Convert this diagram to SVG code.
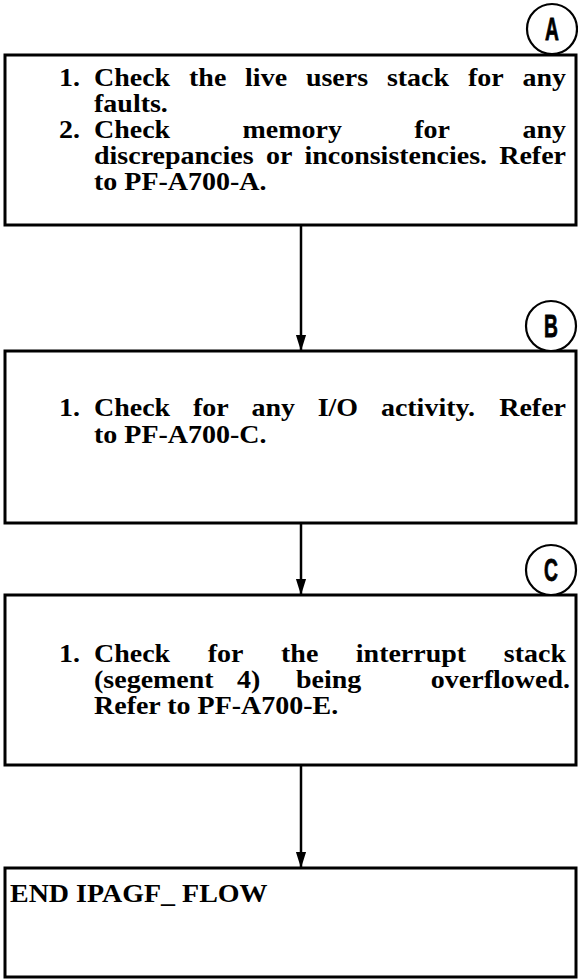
<svg xmlns="http://www.w3.org/2000/svg" width="578" height="979" viewBox="0 0 578 979">
  <style>
    .box { fill: #ffffff; stroke: #000000; stroke-width: 3; }
    .ref { fill: #ffffff; stroke: #000000; stroke-width: 2.2; }
    .t { font-family: "Liberation Serif", "Times New Roman", serif; font-weight: bold; font-size: 28px; fill: #000000; }
    .lbl { font-family: "Liberation Sans", Arial, sans-serif; font-weight: bold; font-size: 31px; fill: #000000; stroke: #000000; stroke-width: 0.8; text-anchor: middle; }
    .flow { fill: none; stroke: #000000; stroke-width: 2.5; }
  </style>
  <defs>
    <marker id="arrow" markerUnits="userSpaceOnUse" markerWidth="16" markerHeight="24" refX="22" refY="7" orient="auto" viewBox="0 0 22 14">
      <path d="M0,0 L22,7 L0,14 Z" fill="#000000"/>
    </marker>
  </defs>
  <rect width="578" height="979" fill="#ffffff"/>

  <!-- flow lines between the steps -->
  <g id="connectors">
    <line class="flow" x1="301" y1="226" x2="301" y2="351" marker-end="url(#arrow)"/>
    <line class="flow" x1="301" y1="524" x2="301" y2="595" marker-end="url(#arrow)"/>
    <line class="flow" x1="301" y1="766" x2="301" y2="868" marker-end="url(#arrow)"/>
  </g>

  <!-- step A: justified lines, each squashed slightly in height -->
  <g id="step-a">
    <rect class="box" x="5" y="55" width="571" height="170"/>
    <text class="t" transform="translate(0 86) scale(1 0.9)">
      <tspan x="59" y="0">1.</tspan><tspan x="94" y="0">Check</tspan><tspan x="189" y="0">the</tspan><tspan x="245.1" y="0">live</tspan><tspan x="305.9" y="0">users</tspan><tspan x="386.9" y="0">stack</tspan><tspan x="467.9" y="0">for</tspan><tspan x="566" y="0" text-anchor="end">any</tspan>
    </text>
    <text class="t" transform="translate(0 112) scale(1 0.9)"><tspan x="94" y="0">faults.</tspan></text>
    <text class="t" transform="translate(0 138) scale(1 0.9)">
      <tspan x="59" y="0">2.</tspan><tspan x="94" y="0">Check</tspan><tspan x="242.5" y="0">memory</tspan><tspan x="414.3" y="0">for</tspan><tspan x="566" y="0" text-anchor="end">any</tspan>
    </text>
    <text class="t" transform="translate(0 164) scale(1 0.9)">
      <tspan x="94" y="0">discrepancies</tspan><tspan x="266.1" y="0">or</tspan><tspan x="304.4" y="0">inconsistencies.</tspan><tspan x="566" y="0" text-anchor="end">Refer</tspan>
    </text>
    <text class="t" transform="translate(0 190) scale(1 0.9)"><tspan x="94" y="0">to PF-A700-A.</tspan></text>
  </g>
  <g id="ref-a">
    <circle class="ref" cx="552" cy="29" r="25"/>
    <text class="lbl" transform="translate(552 40) scale(0.62 1)">A</text>
  </g>

  <!-- step B -->
  <g id="step-b">
    <rect class="box" x="5" y="351" width="571" height="172"/>
    <text class="t" transform="translate(0 416) scale(1 0.9)">
      <tspan x="59" y="0">1.</tspan><tspan x="94" y="0">Check</tspan><tspan x="192.9" y="0">for</tspan><tspan x="251.4" y="0">any</tspan><tspan x="317.7" y="0">I/O</tspan><tspan x="380.9" y="0">activity.</tspan><tspan x="566" y="0" text-anchor="end">Refer</tspan>
    </text>
    <text class="t" transform="translate(0 443) scale(1 0.9)"><tspan x="94" y="0">to PF-A700-C.</tspan></text>
  </g>
  <g id="ref-b">
    <circle class="ref" cx="551" cy="326" r="25"/>
    <text class="lbl" transform="translate(551 337) scale(0.62 1)">B</text>
  </g>

  <!-- step C -->
  <g id="step-c">
    <rect class="box" x="5" y="595" width="571" height="170"/>
    <text class="t" transform="translate(0 662) scale(1 0.9)">
      <tspan x="59" y="0">1.</tspan><tspan x="94" y="0">Check</tspan><tspan x="207.7" y="0">for</tspan><tspan x="281" y="0">the</tspan><tspan x="355.8" y="0">interrupt</tspan><tspan x="566" y="0" text-anchor="end">stack</tspan>
    </text>
    <text class="t" transform="translate(0 688) scale(1 0.9)">
      <tspan x="94" y="0">(segement</tspan><tspan x="237" y="0">4)</tspan><tspan x="296" y="0">being</tspan><tspan x="570" y="0" text-anchor="end">overflowed.</tspan>
    </text>
    <text class="t" transform="translate(0 714) scale(1 0.9)"><tspan x="94" y="0">Refer to PF-A700-E.</tspan></text>
  </g>
  <g id="ref-c">
    <circle class="ref" cx="551" cy="570" r="25"/>
    <text class="lbl" transform="translate(551 581) scale(0.62 1)">C</text>
  </g>

  <!-- end of flow -->
  <g id="step-end">
    <rect class="box" x="5" y="868" width="571" height="109"/>
    <text class="t" transform="translate(0 902) scale(1 0.9)"><tspan x="10" y="0">END IPAGF_ FLOW</tspan></text>
  </g>
</svg>
